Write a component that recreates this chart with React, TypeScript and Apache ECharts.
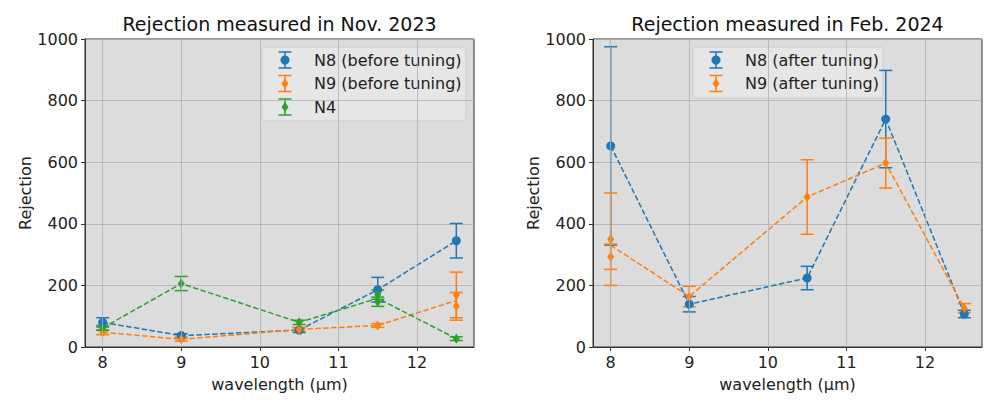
import React, { useEffect, useRef } from "react";
import * as echarts from "echarts";

// ---- data ----
const xTicks = [8, 9, 10, 11, 12];

// [wavelength, rejection, error]
const novN8Points = [[8, 80, 15], [9, 37, 6], [10.5, 55, 8], [11.5, 186, 40], [12.5, 345, 56]];
const novN8Line = [[8, 80], [9, 37], [10.5, 55], [11.5, 186], [12.5, 345]];
const novN9Points = [[8, 48, 8], [9, 25, 6], [10.5, 57, 6], [11.5, 70, 6], [12.5, 169, 74], [12.5, 132, 45]];
const novN9Line = [[8, 48], [9, 25], [10.5, 57], [11.5, 70], [12.5, 151]];
const novN4Points = [[8, 62, 8], [9, 206, 23], [10.5, 80, 7], [11.5, 170, 15], [11.5, 147, 15], [12.5, 27, 6]];
const novN4Line = [[8, 62], [9, 206], [10.5, 80], [11.5, 158], [12.5, 27]];

const febN8Points = [[8, 653, 322], [9, 139, 25], [10.5, 224, 38], [11.5, 740, 158], [12.5, 107, 12]];
const febN8Line = [[8, 653], [9, 139], [10.5, 224], [11.5, 740], [12.5, 107]];
const febN9Points = [[8, 350, 150], [8, 293, 41], [9, 164, 33], [10.5, 487, 121], [11.5, 597, 81], [12.5, 126, 15]];
const febN9Line = [[8, 330], [9, 164], [10.5, 487], [11.5, 597], [12.5, 126]];

const titles = ["Rejection measured in Nov. 2023", "Rejection measured in Feb. 2024"];
const novLegend = ["N8 (before tuning)", "N9 (before tuning)", "N4"];
const febLegend = ["N8 (after tuning)", "N9 (after tuning)"];

const BLUE = "#1f77b4";
const ORANGE = "#ff7f0e";
const GREEN = "#2ca02c";
const FONT = "DejaVu Sans";

const gridBoxes = [
  { left: 85, top: 39, width: 389, height: 308 },
  { left: 593, top: 39, width: 389, height: 308 },
];

function errSeries(data: number[][], color: string, idx: number) {
  return {
    type: "custom",
    xAxisIndex: idx,
    yAxisIndex: idx,
    data,
    z: 3,
    silent: true,
    renderItem: (_p: any, api: any) => {
      const x = api.value(0);
      const y = api.value(1);
      const e = api.value(2);
      const t = api.coord([x, y + e]);
      const b = api.coord([x, y - e]);
      const hw = 6.5;
      const style = { stroke: color, lineWidth: 1.5, fill: null };
      return {
        type: "group",
        children: [
          { type: "line", shape: { x1: t[0], y1: t[1], x2: b[0], y2: b[1] }, style },
          { type: "line", shape: { x1: t[0] - hw, y1: t[1], x2: t[0] + hw, y2: t[1] }, style },
          { type: "line", shape: { x1: b[0] - hw, y1: b[1], x2: b[0] + hw, y2: b[1] }, style },
        ],
      };
    },
  };
}

function pointSeries(data: number[][], color: string, idx: number, diamond: boolean) {
  return {
    type: "scatter",
    xAxisIndex: idx,
    yAxisIndex: idx,
    data: data.map((d) => [d[0], d[1]]),
    symbol: diamond ? "diamond" : "circle",
    symbolSize: diamond ? [7, 10] : 9,
    itemStyle: { color, opacity: 1 },
    z: 4,
    silent: true,
  };
}

function lineSeries(data: number[][], color: string, idx: number) {
  return {
    type: "line",
    xAxisIndex: idx,
    yAxisIndex: idx,
    data,
    symbol: "none",
    lineStyle: { color, width: 1.5, type: [5.5, 2.4] },
    z: 2,
    silent: true,
  };
}

function gridLineSeries(idx: number) {
  return {
    type: "scatter",
    xAxisIndex: idx,
    yAxisIndex: idx,
    data: [],
    z: 1,
    silent: true,
    markLine: {
      silent: true,
      symbol: "none",
      label: { show: false },
      lineStyle: { color: "#b0b0b0", width: 0.8, type: "solid" },
      data: xTicks.map((v) => ({ xAxis: v })),
      animation: false,
    },
  };
}

function legendGraphic(box: { x: number; y: number; w: number; h: number }, iconX: number, textX: number, rows: number[], labels: string[], colors: string[], diamonds: boolean[]) {
  const children: any[] = [
    {
      type: "rect",
      shape: { x: box.x, y: box.y, width: box.w, height: box.h, r: 3 },
      style: { fill: "rgba(232,232,232,0.8)", stroke: "#cccccc", lineWidth: 1 },
    },
  ];
  labels.forEach((label, i) => {
    const cy = rows[i];
    const c = colors[i];
    const ls = { stroke: c, lineWidth: 1.5 };
    children.push({ type: "line", shape: { x1: iconX, y1: cy - 8, x2: iconX, y2: cy + 8 }, style: ls });
    children.push({ type: "line", shape: { x1: iconX - 6.5, y1: cy - 8, x2: iconX + 6.5, y2: cy - 8 }, style: ls });
    children.push({ type: "line", shape: { x1: iconX - 6.5, y1: cy + 8, x2: iconX + 6.5, y2: cy + 8 }, style: ls });
    if (diamonds[i]) {
      children.push({
        type: "polygon",
        shape: { points: [[iconX, cy - 5], [iconX + 3.5, cy], [iconX, cy + 5], [iconX - 3.5, cy]] },
        style: { fill: c },
      });
    } else {
      children.push({ type: "circle", shape: { cx: iconX, cy, r: 4.5 }, style: { fill: c } });
    }
    children.push({
      type: "text",
      x: textX,
      y: cy,
      style: { text: label, fontFamily: FONT, fontSize: 16, fill: "#222", verticalAlign: "middle", align: "left" },
    });
  });
  return { type: "group", children, z: 10 };
}

export default function App() {
  const ref = useRef<HTMLDivElement>(null);
  useEffect(() => {
    if (!ref.current) return;
    const chart = echarts.init(ref.current, undefined, { renderer: "svg" });
    const axisText = { fontFamily: FONT, fontSize: 16, color: "#222" };
    const xAxes = [0, 1].map((i) => ({
      type: "value",
      gridIndex: i,
      min: 7.775,
      max: 12.725,
      name: "wavelength (µm)",
      nameLocation: "middle",
      nameGap: 29,
      nameTextStyle: { ...axisText },
      axisLine: { show: true, onZero: false, lineStyle: { color: "#333", width: 1 } },
      axisTick: { show: true, length: 4, customValues: xTicks, lineStyle: { color: "#333" } },
      axisLabel: { ...axisText, margin: 7, customValues: xTicks, formatter: (v: number) => String(v) },
      splitLine: { show: false },
    }));
    const yAxes = [0, 1].map((i) => ({
      type: "value",
      gridIndex: i,
      min: 0,
      max: 1000,
      interval: 200,
      name: "Rejection",
      nameLocation: "middle",
      nameGap: 51,
      nameTextStyle: { ...axisText },
      axisLine: { show: true, lineStyle: { color: "#333", width: 1 } },
      axisTick: { show: true, length: 4, lineStyle: { color: "#333" } },
      axisLabel: { ...axisText, margin: 7, formatter: (v: number) => String(v) },
      splitLine: { show: true, lineStyle: { color: "#b0b0b0", width: 0.8 } },
    }));
    const option: any = {
      animation: false,
      backgroundColor: "#ffffff",
      grid: gridBoxes.map((g) => ({
        ...g,
        show: true,
        backgroundColor: "#dcdcdc",
        borderColor: "#333",
        borderWidth: 1,
        containLabel: false,
      })),
      xAxis: xAxes,
      yAxis: yAxes,
      series: [
        gridLineSeries(0),
        gridLineSeries(1),
        lineSeries(novN8Line, BLUE, 0),
        errSeries(novN8Points, BLUE, 0),
        pointSeries(novN8Points, BLUE, 0, false),
        lineSeries(novN9Line, ORANGE, 0),
        errSeries(novN9Points, ORANGE, 0),
        pointSeries(novN9Points, ORANGE, 0, true),
        lineSeries(novN4Line, GREEN, 0),
        errSeries(novN4Points, GREEN, 0),
        pointSeries(novN4Points, GREEN, 0, true),
        lineSeries(febN8Line, BLUE, 1),
        errSeries(febN8Points, BLUE, 1),
        pointSeries(febN8Points, BLUE, 1, false),
        lineSeries(febN9Line, ORANGE, 1),
        errSeries(febN9Points, ORANGE, 1),
        pointSeries(febN9Points, ORANGE, 1, true),
      ],
      graphic: [
        {
          type: "text",
          x: 279.5,
          y: 24,
          style: { text: titles[0], fontFamily: FONT, fontSize: 19, fill: "#111", align: "center", verticalAlign: "middle" },
        },
        {
          type: "text",
          x: 787.5,
          y: 24,
          style: { text: titles[1], fontFamily: FONT, fontSize: 19, fill: "#111", align: "center", verticalAlign: "middle" },
        },
        legendGraphic({ x: 262, y: 47, w: 204, h: 74 }, 285, 314, [60, 83.5, 107], novLegend, [BLUE, ORANGE, GREEN], [false, true, true]),
        legendGraphic({ x: 693, y: 47, w: 190, h: 51 }, 716, 745, [60, 83.5], febLegend, [BLUE, ORANGE], [false, true]),
      ],
    };
    chart.setOption(option);
    return () => chart.dispose();
  }, []);
  return <div ref={ref} style={{ position: "fixed", left: 0, top: 0, width: 1000, height: 409 }} />;
}
